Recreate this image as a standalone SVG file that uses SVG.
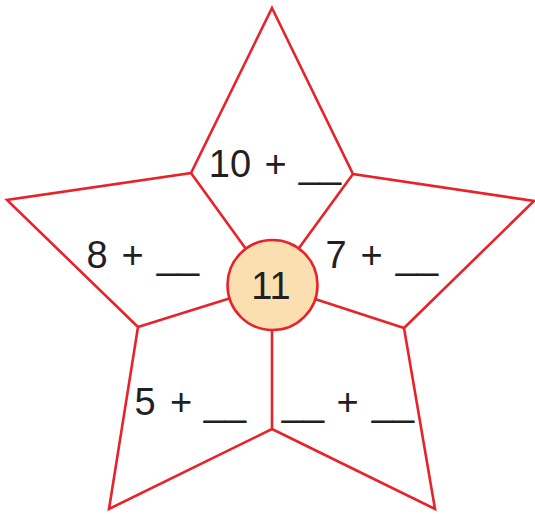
<svg xmlns="http://www.w3.org/2000/svg" width="535" height="514" viewBox="0 0 535 514">
<style>
.ln{fill:none;stroke:#E8222A;stroke-width:2.6;stroke-linejoin:miter}
.t{font-family:"Liberation Sans",Arial,sans-serif;font-size:38px;fill:#231F20;text-anchor:middle}
</style>
<rect width="535" height="514" fill="#FFFFFF"/>
<g id="star">
<polygon class="ln" points="272,8 353,174 534,201 404,328 435,509 272,429 109,509 138,327 7,200 191,173"/>
</g>
<g id="connectors">
<line class="ln" x1="191" y1="173" x2="272" y2="285"/>
<line class="ln" x1="353" y1="174" x2="272" y2="285"/>
<line class="ln" x1="138" y1="327" x2="272" y2="285"/>
<line class="ln" x1="404" y1="328" x2="272" y2="285"/>
<line class="ln" x1="272" y1="429" x2="272" y2="285"/>
</g>
<g id="center">
<circle cx="272.5" cy="285" r="45" fill="#FBDFB1" stroke="#E8222A" stroke-width="2.6"/>
<text class="t" x="271" y="299">11</text>
</g>
<g id="top">
<text class="t" x="230" y="177">10</text>
<text class="t" x="275.5" y="177">+</text>
<text class="t" x="320" y="177">__</text>
</g>
<g id="left">
<text class="t" x="97" y="268">8</text>
<text class="t" x="132.5" y="268">+</text>
<text class="t" x="178" y="268">__</text>
</g>
<g id="right">
<text class="t" x="336" y="268">7</text>
<text class="t" x="371.5" y="268">+</text>
<text class="t" x="417" y="268">__</text>
</g>
<g id="bottom-left">
<text class="t" x="145" y="415">5</text>
<text class="t" x="181" y="415">+</text>
<text class="t" x="225" y="415">__</text>
</g>
<g id="bottom-right">
<text class="t" x="303" y="415">__</text>
<text class="t" x="347.5" y="415">+</text>
<text class="t" x="393" y="415">__</text>
</g>
</svg>
